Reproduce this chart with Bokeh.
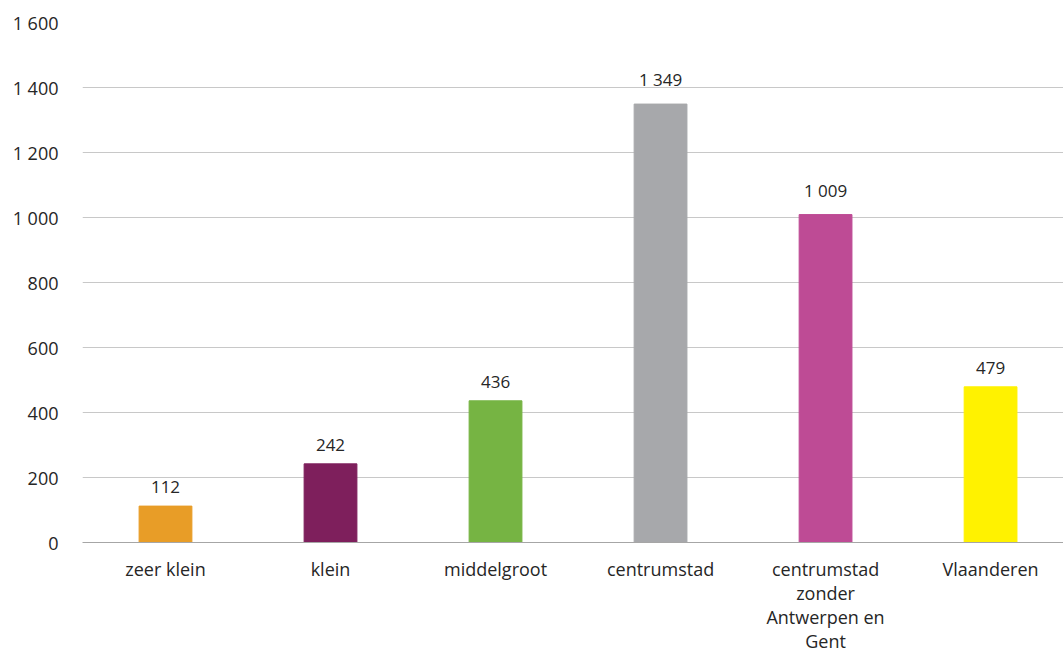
from bokeh.plotting import figure
from bokeh.models import ColumnDataSource, FixedTicker, Range1d
from bokeh.core.properties import value
from bokeh.embed import file_html
from bokeh.resources import INLINE

categories = ["zeer klein", "klein", "middelgroot", "centrumstad",
              "centrumstad\nzonder\nAntwerpen en\nGent", "Vlaanderen"]
values = [112, 242, 436, 1349, 1009, 479]
colors = ["#E89D27", "#7E1F5C", "#76B443", "#A7A8AB", "#BE4B95", "#FFF200"]
y_ticks = [0, 200, 400, 600, 800, 1000, 1200, 1400, 1600]
y_tick_labels = ["0", "200", "400", "600", "800", "1 000", "1 200", "1 400", "1 600"]

FONT = "Open Sans"
xs = list(range(len(categories)))
labels = [f"{v:,}".replace(",", " ") for v in values]
src = ColumnDataSource(dict(x=xs, top=values, color=colors, label=labels))

p = figure(width=1063, height=655, output_backend="svg", toolbar_location=None,
           x_range=Range1d(-0.503, 5.442), y_range=Range1d(0, 1600),
           min_border_left=82, min_border_right=0, min_border_top=22, min_border_bottom=112)
p.outline_line_color = None
p.background_fill_color = "white"

p.vbar(x="x", top="top", width=0.32, color="color", source=src)
p.text(x="x", y="top", text="label", source=src, text_align="center",
       text_baseline="bottom", y_offset=-13, text_font=value(FONT),
       text_font_size="17px", text_color="#262626")

p.xgrid.grid_line_color = None
p.ygrid.grid_line_color = "#C8C8C8"
p.ygrid.grid_line_width = 1
p.ygrid.ticker = FixedTicker(ticks=y_ticks)

p.yaxis.ticker = FixedTicker(ticks=y_ticks)
p.yaxis.major_label_overrides = {t: l for t, l in zip(y_ticks, y_tick_labels)}
p.yaxis.axis_line_color = None
p.yaxis.major_tick_line_color = None
p.yaxis.major_tick_out = 0
p.yaxis.major_tick_in = 0
p.yaxis.minor_tick_line_color = None
p.yaxis.major_label_standoff = 24
p.yaxis.major_label_text_font = FONT
p.yaxis.major_label_text_font_size = "18px"
p.yaxis.major_label_text_color = "#262626"

p.xaxis.ticker = FixedTicker(ticks=xs)
p.xaxis.major_label_overrides = {x: c for x, c in zip(xs, categories)}
p.xaxis.axis_line_color = "#A6A6A6"
p.xaxis.axis_line_width = 1
p.xaxis.major_tick_line_color = None
p.xaxis.major_tick_out = 0
p.xaxis.major_tick_in = 0
p.xaxis.minor_tick_line_color = None
p.xaxis.major_label_standoff = 14
p.xaxis.major_label_text_font = FONT
p.xaxis.major_label_text_font_size = "18px"
p.xaxis.major_label_text_color = "#262626"
p.xaxis.major_label_text_line_height = 1.0

open("out.html", "w").write(file_html(p, INLINE))
